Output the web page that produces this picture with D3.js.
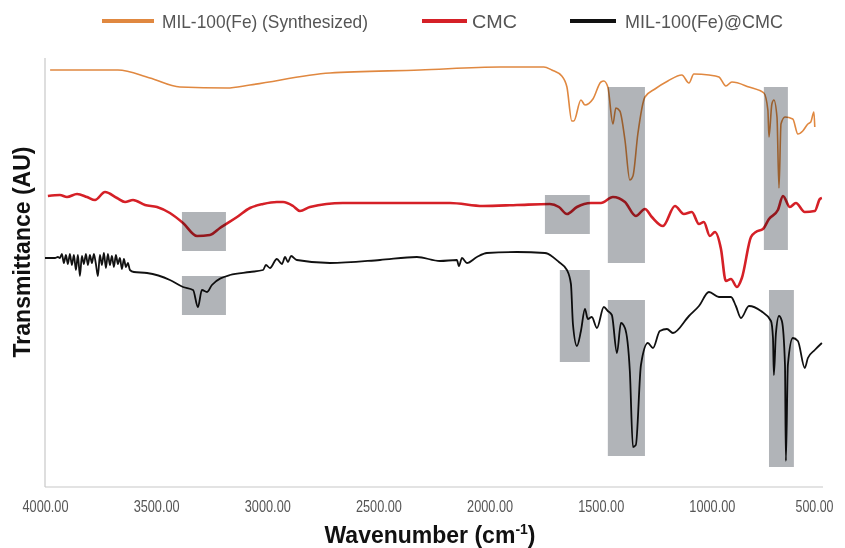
<!DOCTYPE html>
<html><head><meta charset="utf-8">
<script src="https://cdn.jsdelivr.net/npm/d3@7/dist/d3.min.js"></script>
<style>body{margin:0;background:#fff}svg{display:block}</style>
</head><body><svg id="c" width="845" height="548"></svg>
<script>
// Wavenumber (cm-1) and transmittance (AU, arbitrary offset units)
const seriesNames = ["MIL-100(Fe) (Synthesized)", "CMC", "MIL-100(Fe)@CMC"];
const seriesColors = ["#e08840", "#d52027", "#111111"];
const xTicks = [4000, 3500, 3000, 2500, 2000, 1500, 1000, 500];

const milWave = [3977,3672,3528,3393,3181,3078,2718,2313,1953,1756,1720,1675,1652,1630,1621,1589,1571,1535,1499,1486,1468,1445,1432,1414,1391,1369,1355,1333,1301,1256,1198,1135,1103,1081,1013,968,937,910,833,766,748,743,730,721,707,698,689,671,636,613,591,568,555,541,537];
const milVal  = [417,417,409,400,399,402,414,417,420,420,417,411,400,366,366,387,382,388,405,406,400,363,379,376,347,307,311,353,390,398,406,412,404,413,412,410,401,405,400,394,377,350,383,387,370,299,363,370,368,353,356,363,365,375,360];

const cmcWave = [3987,3933,3901,3856,3811,3775,3730,3676,3640,3604,3550,3496,3438,3379,3316,3258,3213,3136,3078,3019,2957,2929,2884,2853,2808,2660,2403,2178,2030,1877,1729,1688,1652,1607,1544,1499,1445,1391,1342,1301,1270,1220,1166,1126,1090,1058,1036,1009,986,959,937,914,887,865,824,802,770,743,703,680,649,622,582,537,514,505];
const cmcVal  = [291,292,290,293,290,287,295,289,285,287,282,280,274,264,251,252,259,270,279,283,285,285,281,276,280,284,284,284,281,282,283,280,273,280,284,284,290,285,271,278,270,261,281,273,275,263,265,251,255,238,206,208,200,209,250,255,258,268,277,291,280,284,275,276,288,289];

const compWave = [4000,3978,3955,3942,3933,3924,3915,3906,3897,3888,3879,3870,3861,3852,3843,3834,3825,3816,3807,3798,3789,3780,3771,3762,3753,3744,3735,3726,3717,3708,3699,3690,3681,3672,3663,3654,3645,3636,3627,3618,3600,3541,3438,3379,3334,3312,3294,3271,3249,3168,3078,3019,3006,2988,2957,2934,2920,2907,2893,2867,2718,2493,2327,2223,2147,2138,2124,2102,2057,2012,1877,1751,1688,1652,1634,1625,1607,1589,1571,1558,1540,1517,1486,1468,1450,1427,1409,1391,1369,1355,1342,1319,1288,1265,1234,1202,1175,1103,1058,1013,968,914,892,869,833,779,734,725,721,712,698,685,671,667,658,636,613,582,568,537,505];
const compVal  = [229,229,229,230,229,233,224,232,223,233,222,232,217,232,211,231,223,233,222,232,224,233,223,211,232,222,234,219,233,222,231,220,232,223,229,218,228,220,224,217,215,214,207,200,197,180,197,195,202,212,215,217,222,219,228,223,230,225,231,227,224,227,230,226,227,221,229,224,230,234,235,234,225,217,203,163,141,156,178,168,170,159,180,176,172,134,164,159,116,40,42,122,144,139,156,158,154,171,181,195,190,190,181,169,181,176,166,149,112,153,171,166,122,26,122,149,146,119,129,137,144];

// highlighted bands: [wave start, wave end, value low, value high]
const bandW1 = [1468, 766, 3384, 3384, 1751, 1684, 1468, 743];
const bandW2 = [1301, 658, 3186, 3186, 1549, 1549, 1301, 631];
const bandV1 = [224, 237, 236, 172, 253, 125, 31, 20];
const bandV2 = [400, 400, 275, 211, 292, 217, 187, 197];

const svg = d3.select("#c");
const x = d3.scaleLinear().domain([4000, 500]).range([45, 823]);
const y = d3.scaleLinear().domain([0, 430]).range([487, 57]);

// axes lines
svg.append("line").attr("x1", 45).attr("x2", 45).attr("y1", 58).attr("y2", 487).attr("stroke", "#c8c8c8").attr("stroke-width", 1.2);
svg.append("line").attr("x1", 45).attr("x2", 823).attr("y1", 487).attr("y2", 487).attr("stroke", "#c8c8c8").attr("stroke-width", 1.2);

const ax = svg.append("g").attr("transform", "translate(0,487)")
  .call(d3.axisBottom(x).tickValues(xTicks).tickSize(0).tickPadding(14).tickFormat(d3.format(".2f")));
ax.select(".domain").remove();
ax.selectAll("text").attr("font-family", "'Liberation Sans',Arial,sans-serif").attr("font-size", 16).attr("fill", "#555")
  .attr("textLength", d => d >= 1000 ? 46 : 38).attr("lengthAdjust", "spacingAndGlyphs")
  .attr("dx", d => d === 500 ? -9 : 0);

const line = d3.line().x(d => x(d[0])).y(d => y(d[1])).curve(d3.curveMonotoneX);
const series = [
  milWave.map((w, i) => [w, milVal[i]]),
  cmcWave.map((w, i) => [w, cmcVal[i]]),
  compWave.map((w, i) => [w, compVal[i]])
];
const widths = [1.6, 2.6, 1.8];
series.forEach((s, i) => {
  svg.append("path").datum(s).attr("d", line).attr("fill", "none")
    .attr("stroke", seriesColors[i]).attr("stroke-width", widths[i]).attr("stroke-linejoin", "round");
});

// bands on top with multiply
bandW1.forEach((w1, i) => {
  svg.append("rect")
    .attr("x", x(w1)).attr("width", x(bandW2[i]) - x(w1))
    .attr("y", y(bandV2[i])).attr("height", y(bandV1[i]) - y(bandV2[i]))
    .attr("fill", "#b1b4b8").style("mix-blend-mode", "multiply");
});

// legend
const legX = [102, 422, 570];
const legLen = [52, 45, 46];
const legTextX = [162, 472, 625];
const legTextW = [206, 45, 158];
const leg = svg.append("g");
seriesNames.forEach((n, i) => {
  leg.append("line").attr("x1", legX[i]).attr("x2", legX[i] + legLen[i]).attr("y1", 21).attr("y2", 21)
    .attr("stroke", seriesColors[i]).attr("stroke-width", 4);
  leg.append("text").attr("x", legTextX[i]).attr("y", 28).text(n)
    .attr("textLength", legTextW[i]).attr("lengthAdjust", "spacingAndGlyphs")
    .attr("font-family", "'Liberation Sans',Arial,sans-serif").attr("font-size", 19).attr("fill", "#555");
});

// axis titles
const xt = svg.append("text").attr("x", 430).attr("y", 543).attr("text-anchor", "middle")
  .attr("font-family", "'Liberation Sans',Arial,sans-serif").attr("font-weight", "bold").attr("font-size", 23).attr("fill", "#111");
xt.append("tspan").text("Wavenumber (cm");
xt.append("tspan").attr("dy", -9).attr("font-size", 14).text("-1");
xt.append("tspan").attr("dy", 9).text(")");

svg.append("text").attr("transform", "translate(30,252) rotate(-90)").attr("text-anchor", "middle")
  .attr("font-family", "'Liberation Sans',Arial,sans-serif").attr("font-weight", "bold").attr("font-size", 23).attr("fill", "#111")
  .text("Transmittance (AU)");
</script></body></html>
